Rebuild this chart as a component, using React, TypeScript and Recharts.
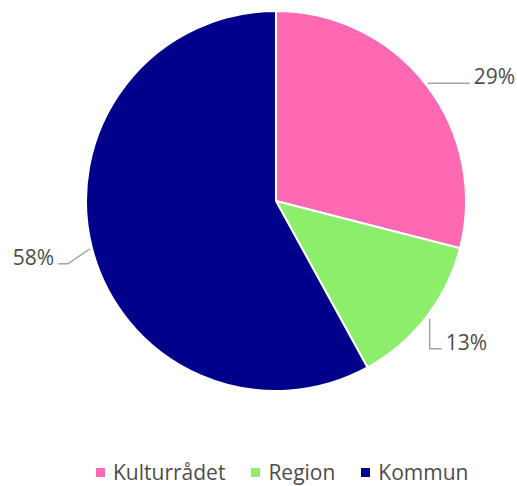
import React from 'react';
import { PieChart, Pie, Cell } from 'recharts';

const categories = ['Kulturrådet', 'Region', 'Kommun'];
const shares = [29, 13, 58];
const colors = ['#FF69B4', '#8CEE6A', '#00008B'];

const data = categories.map((name, i) => ({ name, value: shares[i] }));

const RAD = Math.PI / 180;
const TEXT = '#4D4D4D';
const LINE = '#A6A6A6';
const FONT = '"Open Sans", sans-serif';

// Leader line + percent label, shape depends on which side of the pie
const renderLabel = (props: any) => {
  const { cx, cy, midAngle, outerRadius, percent } = props;
  const cos = Math.cos(-midAngle * RAD);
  const sin = Math.sin(-midAngle * RAD);
  const sx = cx + (outerRadius + 2) * cos;
  const sy = cy + (outerRadius + 2) * sin;
  const txt = `${Math.round(percent * 100)}%`;
  let d = '';
  let tx = 0;
  let ty = 0;
  let anchor: 'start' | 'end' = 'start';
  if (cos >= 0 && sin < 0) {
    d = `M${sx},${sy}H${sx + 42}`;
    tx = sx + 46;
    ty = sy + 1;
  } else if (cos >= 0) {
    d = `M${sx + 2},${sy}V${sy + 30}H${sx + 14}`;
    tx = sx + 18;
    ty = sy + 31;
  } else {
    d = `M${sx},${sy}L${sx - 22},${sy + 15}H${sx - 32}`;
    tx = sx - 36;
    ty = sy + 16;
    anchor = 'end';
  }
  return (
    <g>
      <path d={d} stroke={LINE} strokeWidth={1.5} fill="none" />
      <text x={tx} y={ty} textAnchor={anchor} fill={TEXT} fontSize={21} fontFamily={FONT}>
        {txt}
      </text>
    </g>
  );
};

export default function App() {
  return (
    <div style={{ position: 'absolute', left: 0, top: 0, width: 517, height: 486, background: '#fff', overflow: 'hidden' }}>
      <PieChart width={517} height={440}>
        <Pie
          data={data}
          dataKey="value"
          nameKey="name"
          cx={271}
          cy={196}
          outerRadius={190}
          startAngle={90}
          endAngle={-270}
          stroke="#fff"
          strokeWidth={2}
          label={renderLabel}
          labelLine={false}
          isAnimationActive={false}
        >
          {data.map((d, i) => (
            <Cell key={d.name} fill={colors[i]} />
          ))}
        </Pie>
      </PieChart>
      <div
        style={{
          position: 'absolute',
          top: 459,
          left: 96,
          display: 'flex',
          gap: 26,
          fontFamily: FONT,
          fontSize: 21,
          color: TEXT,
          lineHeight: '26px',
        }}
      >
        {categories.map((c, i) => (
          <div key={c} style={{ display: 'flex', alignItems: 'center' }}>
            <span style={{ width: 9, height: 9, background: colors[i], marginRight: 8, display: 'inline-block' }} />
            <span>{c}</span>
          </div>
        ))}
      </div>
    </div>
  );
}
